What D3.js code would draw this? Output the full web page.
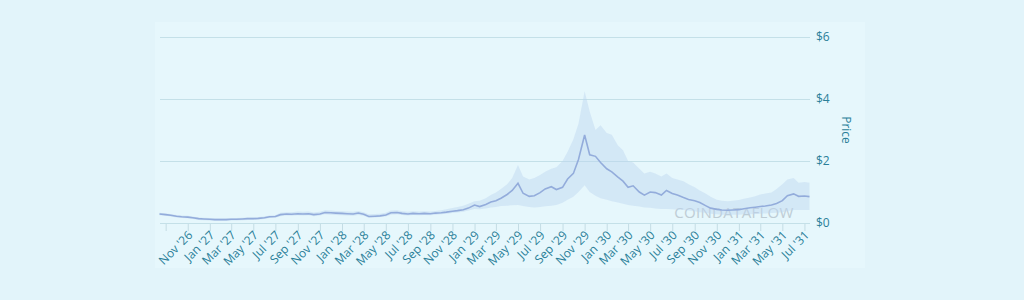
<!DOCTYPE html>
<html>
<head>
<meta charset="utf-8">
<script src="https://cdn.jsdelivr.net/npm/d3@7"></script>
<style>
  html, body { margin: 0; padding: 0; background: #e2f4fa; }
  svg { display: block; font-family: "Open Sans", sans-serif; }
</style>
</head>
<body>
<svg id="chart" width="1024" height="300"></svg>
<script>
// price points, one on the 1st and 15th of each month, starting 15 Aug 2026
var startDate = new Date(2026, 7, 15);

var prices = [
	0.29, 0.27, 0.25, 0.22, 0.20, 0.19, 0.17, 0.14, 0.13, 0.12,
	0.11, 0.11, 0.11, 0.12, 0.12, 0.13, 0.14, 0.14, 0.15, 0.17,
	0.20, 0.21, 0.27, 0.29, 0.28, 0.30, 0.29, 0.30, 0.27, 0.29,
	0.34, 0.33, 0.32, 0.31, 0.30, 0.29, 0.32, 0.28, 0.21, 0.22,
	0.23, 0.26, 0.33, 0.34, 0.31, 0.29, 0.31, 0.30, 0.31, 0.30,
	0.32, 0.33, 0.35, 0.38, 0.40, 0.43, 0.48, 0.58, 0.53, 0.60,
	0.68, 0.72, 0.80, 0.92, 1.05, 1.28, 0.96, 0.86, 0.88, 0.98,
	1.10, 1.17, 1.08, 1.15, 1.42, 1.60, 2.05, 2.84, 2.20, 2.15,
	1.95, 1.75, 1.65, 1.48, 1.35, 1.15, 1.20, 1.00, 0.90, 1.00,
	0.98, 0.90, 1.05, 0.95, 0.90, 0.82, 0.76, 0.72, 0.66, 0.56,
	0.48, 0.44, 0.42, 0.41, 0.42, 0.43, 0.46, 0.49, 0.51, 0.53,
	0.55, 0.58, 0.63, 0.72, 0.88, 0.94, 0.86, 0.87, 0.85
];

var bandHigh = [
	0.33, 0.31, 0.29, 0.26, 0.24, 0.23, 0.21, 0.18, 0.17, 0.16,
	0.15, 0.15, 0.15, 0.16, 0.16, 0.17, 0.18, 0.18, 0.19, 0.21,
	0.24, 0.25, 0.33, 0.35, 0.35, 0.37, 0.36, 0.37, 0.34, 0.36,
	0.41, 0.40, 0.39, 0.38, 0.37, 0.36, 0.39, 0.35, 0.28, 0.29,
	0.30, 0.33, 0.40, 0.41, 0.38, 0.36, 0.38, 0.37, 0.38, 0.37,
	0.39, 0.41, 0.44, 0.48, 0.52, 0.56, 0.62, 0.70, 0.72, 0.80,
	0.90, 0.98, 1.10, 1.25, 1.45, 1.87, 1.50, 1.40, 1.45, 1.55,
	1.65, 1.75, 1.80, 2.00, 2.30, 2.70, 3.20, 4.25, 3.60, 3.00,
	3.15, 2.90, 2.85, 2.50, 2.35, 2.00, 1.95, 1.75, 1.60, 1.65,
	1.60, 1.50, 1.60, 1.45, 1.40, 1.35, 1.25, 1.15, 1.05, 0.95,
	0.85, 0.75, 0.72, 0.70, 0.72, 0.74, 0.78, 0.82, 0.86, 0.92,
	0.95, 0.98, 1.10, 1.25, 1.40, 1.45, 1.30, 1.32, 1.30
];

var bandLow = [
	0.25, 0.23, 0.21, 0.18, 0.16, 0.15, 0.13, 0.10, 0.09, 0.08,
	0.07, 0.07, 0.07, 0.08, 0.08, 0.09, 0.10, 0.10, 0.11, 0.13,
	0.16, 0.17, 0.22, 0.24, 0.23, 0.25, 0.24, 0.25, 0.22, 0.24,
	0.28, 0.27, 0.26, 0.25, 0.24, 0.23, 0.26, 0.23, 0.17, 0.18,
	0.19, 0.21, 0.27, 0.28, 0.26, 0.24, 0.26, 0.25, 0.26, 0.25,
	0.27, 0.28, 0.30, 0.32, 0.34, 0.36, 0.40, 0.45, 0.44, 0.47,
	0.50, 0.52, 0.55, 0.56, 0.57, 0.58, 0.55, 0.52, 0.50, 0.52,
	0.54, 0.56, 0.58, 0.65, 0.75, 0.85, 1.00, 1.22, 1.00, 0.88,
	0.80, 0.75, 0.70, 0.66, 0.62, 0.58, 0.56, 0.53, 0.50, 0.49,
	0.47, 0.45, 0.45, 0.44, 0.43, 0.42, 0.40, 0.38, 0.35, 0.33,
	0.30, 0.28, 0.27, 0.27, 0.27, 0.27, 0.28, 0.28, 0.29, 0.30,
	0.31, 0.32, 0.33, 0.35, 0.39, 0.42, 0.42, 0.42, 0.42
];

var yTicks = [0, 2, 4, 6];
var xTickStart = new Date(2026, 8, 1);
var xTickEnd = new Date(2031, 6, 1);
var watermark = "COINDATAFLOW";
var yTitle = "Price";

var svg = d3.select("#chart");

var dates = prices.map(function(d, i){
	var m = d3.timeMonth.offset(new Date(2026, 7, 1), Math.floor((i + 1) / 2));
	return new Date(m.getFullYear(), m.getMonth(), i % 2 === 1 ? 1 : 15);
});

var data = prices.map(function(p, i){
	return { date: dates[i], price: p, low: bandLow[i], high: bandHigh[i] };
});

var x = d3.scaleTime()
	.domain([startDate, dates[dates.length - 1]])
	.range([159.5, 809.5]);

var y = d3.scaleLinear()
	.domain([0, 6])
	.range([223, 37]);

// lighter plot panel
svg.append("rect")
	.attr("x", 155).attr("y", 22)
	.attr("width", 710).attr("height", 246)
	.attr("fill", "#e6f7fc");

// grid
svg.append("g").selectAll("line")
	.data(yTicks)
	.enter()
	.append("line")
	.attr("x1", 160).attr("x2", 810)
	.attr("y1", function(d){ return y(d) + 0.5; })
	.attr("y2", function(d){ return y(d) + 0.5; })
	.attr("stroke", "#c4e0e8")
	.attr("stroke-width", 1.2);

// watermark
svg.append("text")
	.attr("x", 734).attr("y", 218)
	.attr("text-anchor", "middle")
	.attr("font-size", 15)
	.attr("letter-spacing", 0.3)
	.attr("fill", "#b8c6cf")
	.attr("opacity", 0.85)
	.text(watermark);

var area = d3.area()
	.x(function(d){ return x(d.date); })
	.y0(function(d){ return y(d.low); })
	.y1(function(d){ return y(d.high); })
	.curve(d3.curveLinear);

svg.append("path")
	.datum(data)
	.attr("d", area)
	.attr("fill", "#bcd5f0")
	.attr("opacity", 0.45);

var line = d3.line()
	.x(function(d){ return x(d.date); })
	.y(function(d){ return y(d.price); });

svg.append("path")
	.datum(data)
	.attr("d", line)
	.attr("fill", "none")
	.attr("stroke", "#93acdb")
	.attr("stroke-width", 1.6);

// x axis
var xTickDates = d3.timeMonth.every(2).range(xTickStart, d3.timeDay.offset(xTickEnd, 1));
var fmt = d3.timeFormat("%b '%y");

var xAxis = svg.append("g")
	.attr("transform", "translate(0,224)")
	.call(d3.axisBottom(x)
		.tickValues(xTickDates)
		.tickSize(7)
		.tickFormat(function(d, i){ return i === 0 ? "" : fmt(d); }));

xAxis.select(".domain").remove();
xAxis.selectAll(".tick line").attr("stroke", "#c4dce4");
xAxis.selectAll(".tick text")
	.attr("fill", "#2a7f99")
	.attr("font-size", 12)
	.attr("font-family", "Open Sans, sans-serif")
	.attr("text-anchor", "end")
	.attr("y", 0)
	.attr("dy", null)
	.attr("transform", "translate(5,12) rotate(-45)");

// y axis on the right
var yAxis = svg.append("g")
	.attr("transform", "translate(812,0)")
	.call(d3.axisRight(y)
		.tickValues(yTicks)
		.tickSize(0)
		.tickPadding(4)
		.tickFormat(function(d){ return "$" + d; }));

yAxis.select(".domain").remove();
yAxis.selectAll(".tick text")
	.attr("fill", "#2a7f99")
	.attr("font-size", 12)
	.attr("font-family", "Open Sans, sans-serif");

svg.append("text")
	.attr("transform", "translate(842,130) rotate(90)")
	.attr("text-anchor", "middle")
	.attr("fill", "#2a7f99")
	.attr("font-size", 12)
	.text(yTitle);
</script>
</body>
</html>
